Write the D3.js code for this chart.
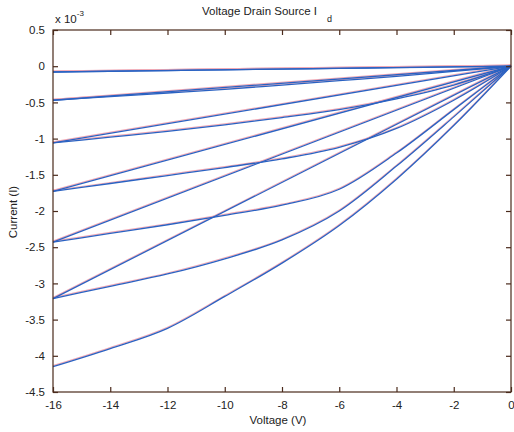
<!DOCTYPE html>
<html><head><meta charset="utf-8">
<script src="https://cdn.jsdelivr.net/npm/d3@7"></script>
<style>
body{margin:0;background:#fff;}
text{font-family:Arial,"Liberation Sans",sans-serif;}
</style></head>
<body><svg id="c" width="514" height="432"></svg>
<script>
// x sample points (Voltage, V)
const voltages = [-16, -14, -12, -10, -8, -6, -4, -2, 0];
// Current curves (units of 1e-3 A), one per gate step
const curve1 = [-0.08, -0.07, -0.06, -0.05, -0.04, -0.03, -0.02, -0.01, 0];
const curve2 = [-0.47, -0.42, -0.37, -0.32, -0.26, -0.20, -0.14, -0.07, 0];
const curve3 = [-1.06, -0.98, -0.90, -0.81, -0.71, -0.60, -0.45, -0.26, 0];
const curve4 = [-1.73, -1.62, -1.51, -1.40, -1.28, -1.12, -0.86, -0.47, 0];
const curve5 = [-2.43, -2.31, -2.19, -2.06, -1.92, -1.70, -1.20, -0.60, 0];
const curve6 = [-3.21, -3.04, -2.87, -2.66, -2.40, -2.00, -1.38, -0.70, 0];
const curve7 = [-4.15, -3.90, -3.62, -3.18, -2.72, -2.20, -1.56, -0.82, 0];
const curves = [curve7, curve6, curve5, curve4, curve3, curve2, curve1];
const xTicks = [-16, -14, -12, -10, -8, -6, -4, -2, 0];
const yTicks = [0.5, 0, -0.5, -1, -1.5, -2, -2.5, -3, -3.5, -4, -4.5];

const svg = d3.select("#c");
const L = 53, R = 511, T = 30, B = 392;
const x = d3.scaleLinear().domain([-16, 0]).range([L, R]);
const y = d3.scaleLinear().domain([-4.5, 0.5]).range([B, T]);

const line = d3.line().x(d => x(d[0])).y(d => y(d[1])).curve(d3.curveMonotoneX);
const straight = d3.line().x(d => x(d[0])).y(d => y(d[1]));
const plot = svg.append("g");
// each curve sweeps -16 -> 0, then the trace jumps straight back to the next start
function drawAll(g, color, w, dy) {
  curves.forEach((c, k) => {
    g.append("path").datum(voltages.map((v, i) => [v, c[i]]))
      .attr("d", line).attr("fill", "none").attr("stroke", color)
      .attr("stroke-width", w).attr("transform", `translate(0,${dy})`);
    if (k < curves.length - 1) {
      const nxt = curves[k + 1];
      g.append("path").datum([[voltages[voltages.length - 1], c[c.length - 1]], [voltages[0], nxt[0]]])
        .attr("d", straight).attr("fill", "none").attr("stroke", color)
        .attr("stroke-width", w).attr("transform", `translate(0,${dy})`);
    }
  });
}
drawAll(plot, "#f0a8b4", 1.2, -1);
drawAll(plot, "#2a62c2", 1.3, 0);

const axisColor = "#4a2a1c";
svg.append("rect").attr("x", L).attr("y", T).attr("width", R - L).attr("height", B - T)
  .attr("fill", "none").attr("stroke", axisColor).attr("stroke-width", 1.2);

const fmt = d => String(d);
const gx = svg.append("g").attr("transform", `translate(0,${B})`)
  .call(d3.axisBottom(x).tickValues(xTicks).tickSize(-5).tickPadding(9).tickFormat(fmt));
const gxt = svg.append("g").attr("transform", `translate(0,${T})`)
  .call(d3.axisTop(x).tickValues(xTicks).tickSize(-5).tickFormat(""));
const gy = svg.append("g").attr("transform", `translate(${L},0)`)
  .call(d3.axisLeft(y).tickValues(yTicks).tickSize(-5).tickPadding(8).tickFormat(fmt));
const gyr = svg.append("g").attr("transform", `translate(${R},0)`)
  .call(d3.axisRight(y).tickValues(yTicks).tickSize(-5).tickFormat(""));
[gx, gxt, gy, gyr].forEach(g => {
  g.select(".domain").remove();
  g.selectAll(".tick line").attr("stroke", axisColor).attr("stroke-width", 1.2);
  g.selectAll(".tick text").attr("fill", "#222").style("font-size", "11.5px")
    .style("font-family", "Arial, 'Liberation Sans', sans-serif");
});

const ex = svg.append("text").attr("x", 55).attr("y", 23).attr("fill", "#222").style("font-size", "11.5px");
ex.append("tspan").text("x 10");
ex.append("tspan").attr("dy", -7).style("font-size", "8px").text("-3");

const ti = svg.append("text").attr("x", 202).attr("y", 15).attr("fill", "#222").style("font-size", "11.5px");
ti.append("tspan").text("Voltage Drain Source I");
ti.append("tspan").attr("dx", 10).attr("dy", 7).style("font-size", "9px").text("d");

svg.append("text").attr("x", 278).attr("y", 424).attr("text-anchor", "middle")
  .attr("fill", "#222").style("font-size", "11.5px").text("Voltage (V)");
svg.append("text").attr("transform", "translate(17,212) rotate(-90)").attr("text-anchor", "middle")
  .attr("fill", "#222").style("font-size", "11.5px").text("Current (I)");
</script></body></html>
